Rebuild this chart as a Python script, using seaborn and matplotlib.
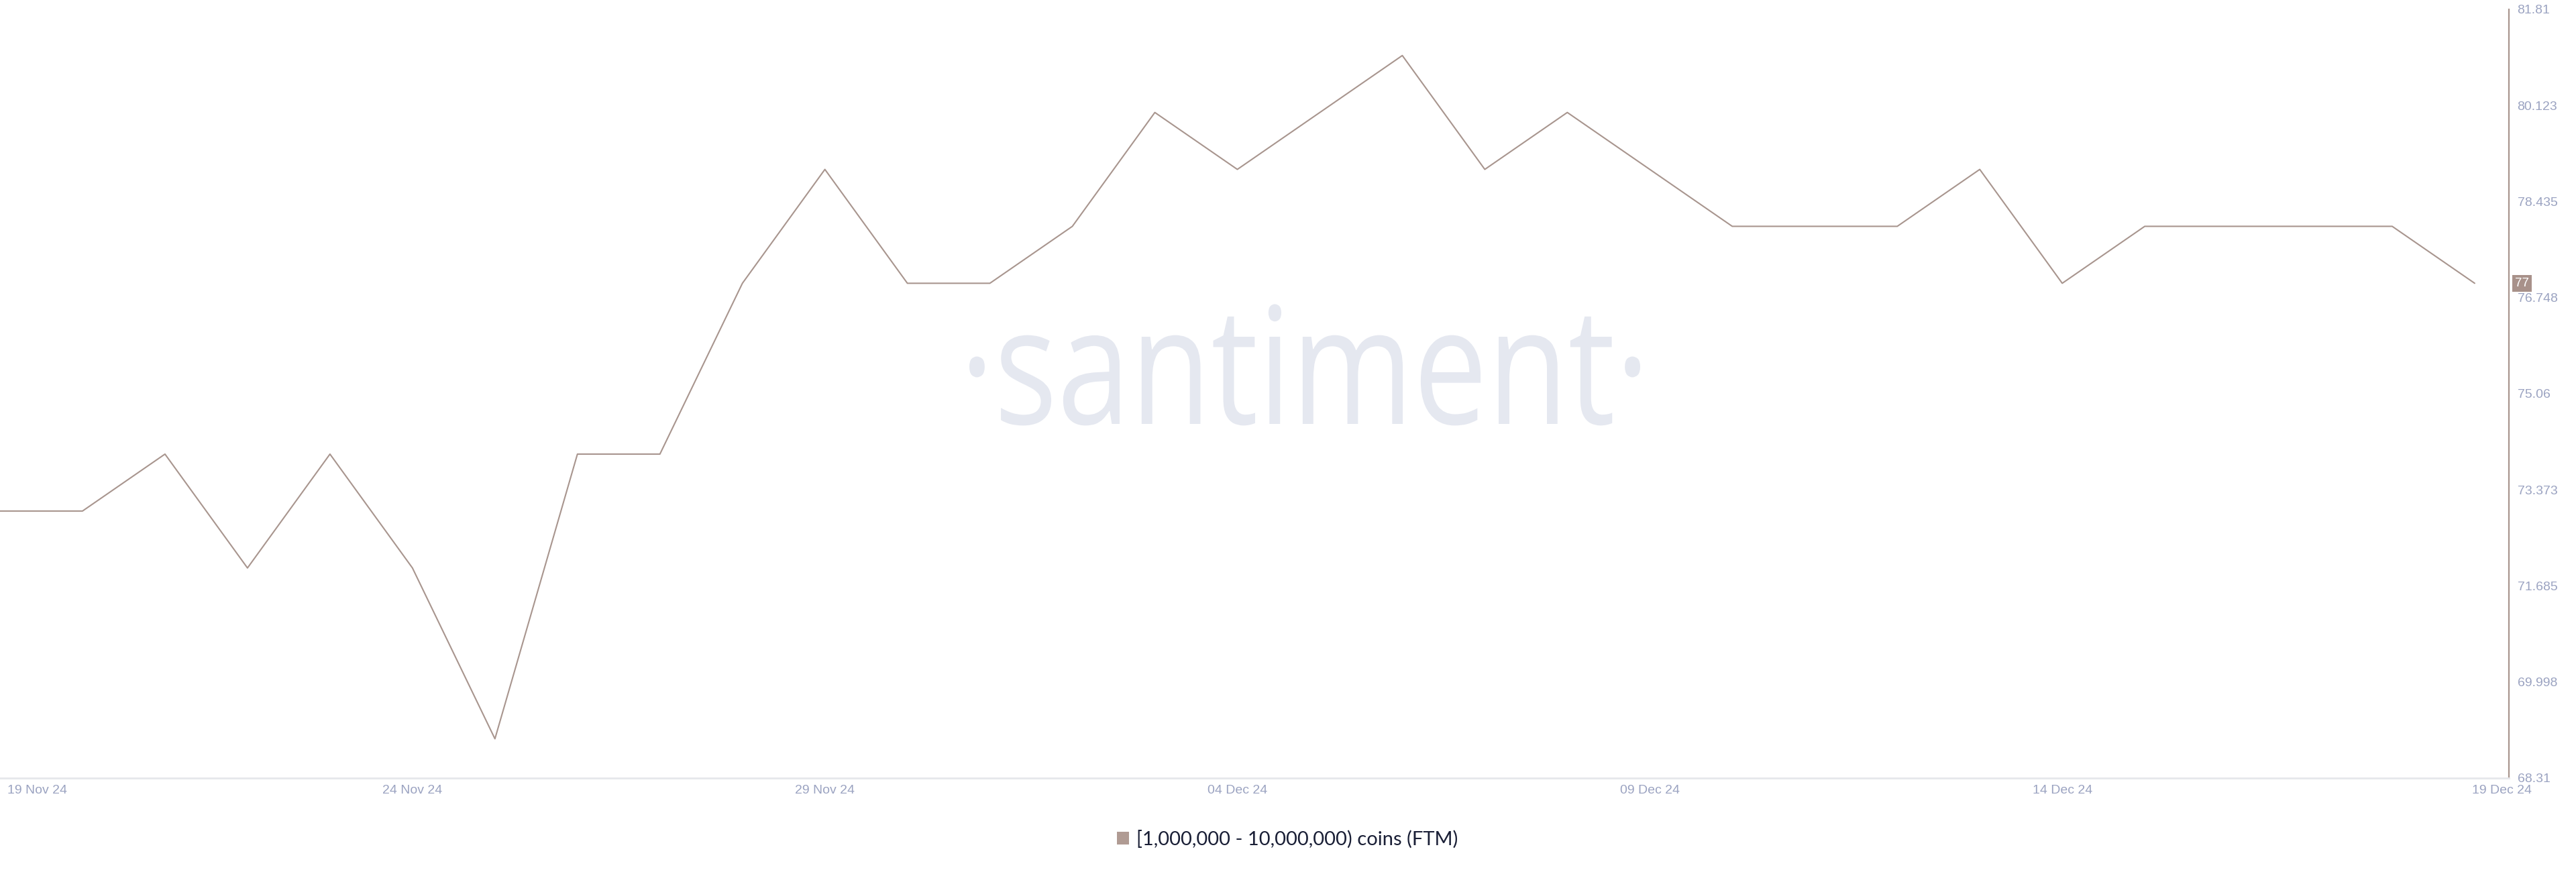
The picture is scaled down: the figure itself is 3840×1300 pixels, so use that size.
import matplotlib
matplotlib.use("Agg")
import matplotlib.pyplot as plt
import matplotlib.dates as mdates
from matplotlib.transforms import ScaledTranslation, blended_transform_factory, Affine2D, IdentityTransform
from matplotlib.patches import Patch, PathPatch
from matplotlib.textpath import TextPath
from matplotlib.font_manager import FontProperties
import seaborn as sns
import pandas as pd
import numpy as np

dates = pd.date_range("2024-11-19", "2024-12-19", freq="D")
values = [73, 73, 74, 72, 74, 72, 69, 74, 74, 77, 79, 77, 77, 78, 80, 79,
          80, 81, 79, 80, 79, 78, 78, 78, 79, 77, 78, 78, 78, 78, 77]
series_name = "[1,000,000 - 10,000,000) coins (FTM)"
y_ticks = [68.31, 69.998, 71.685, 73.373, 75.06, 76.748, 78.435, 80.123, 81.81]
x_tick_dates = ["2024-11-19", "2024-11-24", "2024-11-29", "2024-12-04",
                "2024-12-09", "2024-12-14", "2024-12-19"]
x_tick_labels = ["19 Nov 24", "24 Nov 24", "29 Nov 24", "04 Dec 24",
                 "09 Dec 24", "14 Dec 24", "19 Dec 24"]

LINE = "#a8958e"
TICK = "#9ba3c1"
W, H = 3840, 1300
DPI = 100

sns.set_theme(style="white")
plt.rcParams["font.family"] = ["Liberation Sans", "DejaVu Sans"]

fig = plt.figure(figsize=(W / DPI, H / DPI), dpi=DPI)
fig.patch.set_facecolor("white")
ax = fig.add_axes([0, (H - 1160) / H, 3740 / W, (1160 - 14) / H])
ax.set_facecolor("none")

# watermark drawn as a squeezed text path (pixel coordinates, origin bottom-left)
wm_prop = FontProperties(family="Open Sans")
wm_path = TextPath((0, 0), "·santiment·", size=100, prop=wm_prop)
xh = TextPath((0, 0), "x", size=100, prop=wm_prop).get_extents()
ext = wm_path.get_extents()
sx = 1000 / ext.width
sy = 130 / xh.height
tx = 1445 - ext.x0 * sx
ty = (H - 632)
wm_tr = Affine2D().scale(sx, sy).translate(tx, ty) + IdentityTransform()
fig.add_artist(PathPatch(wm_path, transform=wm_tr, facecolor="#e5e8f0",
                         edgecolor="none", zorder=0))

df = pd.DataFrame({"date": dates, "value": values})
sns.lineplot(data=df, x="date", y="value", ax=ax, color=LINE, linewidth=1.5,
             legend=False, zorder=3)

x0 = mdates.date2num(dates[0])
x1 = mdates.date2num(dates[-1])
ax.set_xlim(x0, x1 + 0.415)
ax.set_ylim(68.31, 81.81)

ax.yaxis.tick_right()
ax.set_yticks(y_ticks)
ax.set_yticklabels([f"{v:g}" for v in y_ticks])
ax.set_xticks([mdates.date2num(pd.Timestamp(d)) for d in x_tick_dates])
ax.set_xticklabels(x_tick_labels)
ax.tick_params(axis="y", length=0, pad=9, labelsize=14, labelcolor=TICK)
ax.tick_params(axis="x", length=0, pad=7, labelsize=14, labelcolor=TICK)
ax.set_xlabel("")
ax.set_ylabel("")

xl = ax.get_xticklabels()
xl[0].set_horizontalalignment("left")
xl[0].set_transform(xl[0].get_transform() + ScaledTranslation(11 / DPI, 0, fig.dpi_scale_trans))
xl[-1].set_transform(xl[-1].get_transform() + ScaledTranslation(41 / DPI, 0, fig.dpi_scale_trans))

for s in ["top", "left"]:
    ax.spines[s].set_visible(False)
ax.spines["right"].set_color(LINE)
ax.spines["right"].set_linewidth(1.6)
ax.spines["bottom"].set_color("#e6e7eb")
ax.spines["bottom"].set_linewidth(2)
ax.grid(False)

# last value badge
tr = blended_transform_factory(ax.transAxes, ax.transData)
ax.text(1.0 + 9 / 3740, values[-1], f"{values[-1]}", transform=tr, ha="left", va="center",
        fontsize=13.5, color="white", clip_on=False, zorder=5,
        bbox=dict(boxstyle="square,pad=0.2", facecolor="#a8918a", edgecolor="none"))

fig.legend(handles=[Patch(facecolor="#b09b93", edgecolor="none", label=series_name)],
           loc="center", bbox_to_anchor=(1919 / W, 1 - 1251 / H), frameon=False,
           handlelength=0.6, handleheight=0.6, handletextpad=0.38,
           labelcolor="#1a1f36", prop={"family": ["Lato", "DejaVu Sans"], "size": 21})

fig.savefig("out.png", dpi=DPI, facecolor="white")
